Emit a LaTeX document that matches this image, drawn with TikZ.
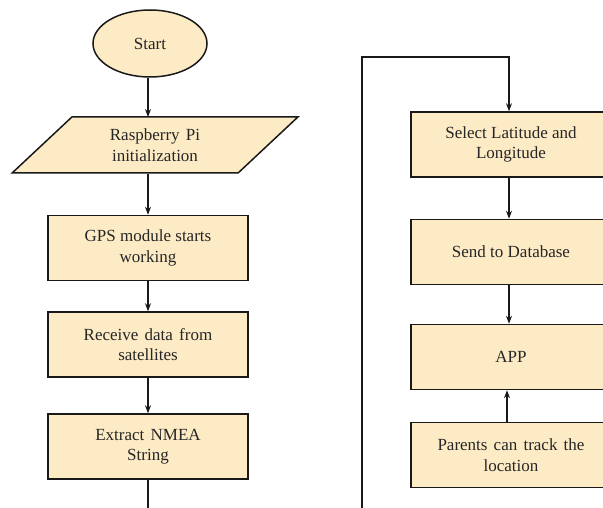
\documentclass[tikz,border=0pt]{standalone}
\usepackage{fontspec}
\setmainfont{Liberation Serif}
\usetikzlibrary{shapes.geometric,arrows.meta}
\definecolor{boxfill}{RGB}{253,235,197}
\definecolor{lineclr}{RGB}{25,25,25}
\newcommand{\widesp}[1]{{\spaceskip=6.2pt plus 1pt #1}}
\begin{document}
\begin{tikzpicture}[x=1pt,y=-1pt,
  every node/.style={font=\fontsize{17}{20.5}\selectfont, text=black!85},
  procbox/.style={draw=lineclr, line width=1.5pt, fill=boxfill, rectangle,
    minimum width=200, minimum height=65, align=center, inner sep=0pt},
  startshape/.style={draw=lineclr, line width=1.5pt, fill=boxfill, ellipse,
    minimum width=114, minimum height=67, inner sep=0pt},
  ioshape/.style={draw=lineclr, line width=1.5pt, fill=boxfill, trapezium,
    trapezium left angle=45, trapezium right angle=135, trapezium stretches=true,
    minimum width=286, minimum height=56, align=center, inner sep=0pt},
  conn/.style={draw=lineclr, line width=1.2pt},
  arr/.style={conn, -{Stealth[length=8pt,width=6pt]}}
]
\useasboundingbox (0,0) rectangle (603,508);
\clip (0,0) rectangle (603,508);

% left column
\node[startshape] (start) at (150,43.5) {Start};
\node[ioshape] (rpi) at (155,145) {\widesp{Raspberry Pi}\\initialization};
\node[procbox] (gps) at (148,248) {GPS module starts\\working};
\node[procbox] (recv) at (148,344.5) {\widesp{Receive data from}\\satellites};
\node[procbox] (nmea) at (148,446.5) {\widesp{Extract NMEA}\\String};
\coordinate (bottomL) at (148,508);

% right column
\coordinate (bottomR) at (362,508);
\coordinate (cornerA) at (362,57);
\coordinate (cornerB) at (509,57);
\node[procbox] (sel) at (511,144.5) {Select Latitude and\\Longitude};
\node[procbox] (db) at (511,252) {Send to Database};
\node[procbox] (app) at (511,357) {APP};
\node[procbox] (par) at (511,455) {\widesp{Parents can track the}\\location};

% connectors
\draw[arr] (start.south -| 148,0) -- (148,117);
\draw[arr] (gps |- rpi.south) -- (gps.north);
\draw[arr] (gps.south) -- (recv.north);
\draw[arr] (recv.south) -- (nmea.north);
\draw[conn] (nmea.south) -- (bottomL);

\draw[arr] (bottomR) -- (cornerA) -- (cornerB) -- (cornerB |- sel.north);
\draw[arr] (cornerB |- sel.south) -- (cornerB |- db.north);
\draw[arr] (cornerB |- db.south) -- (cornerB |- app.north);
\draw[arr] (507,0 |- par.north) -- (507,0 |- app.south);
\end{tikzpicture}
\end{document}
